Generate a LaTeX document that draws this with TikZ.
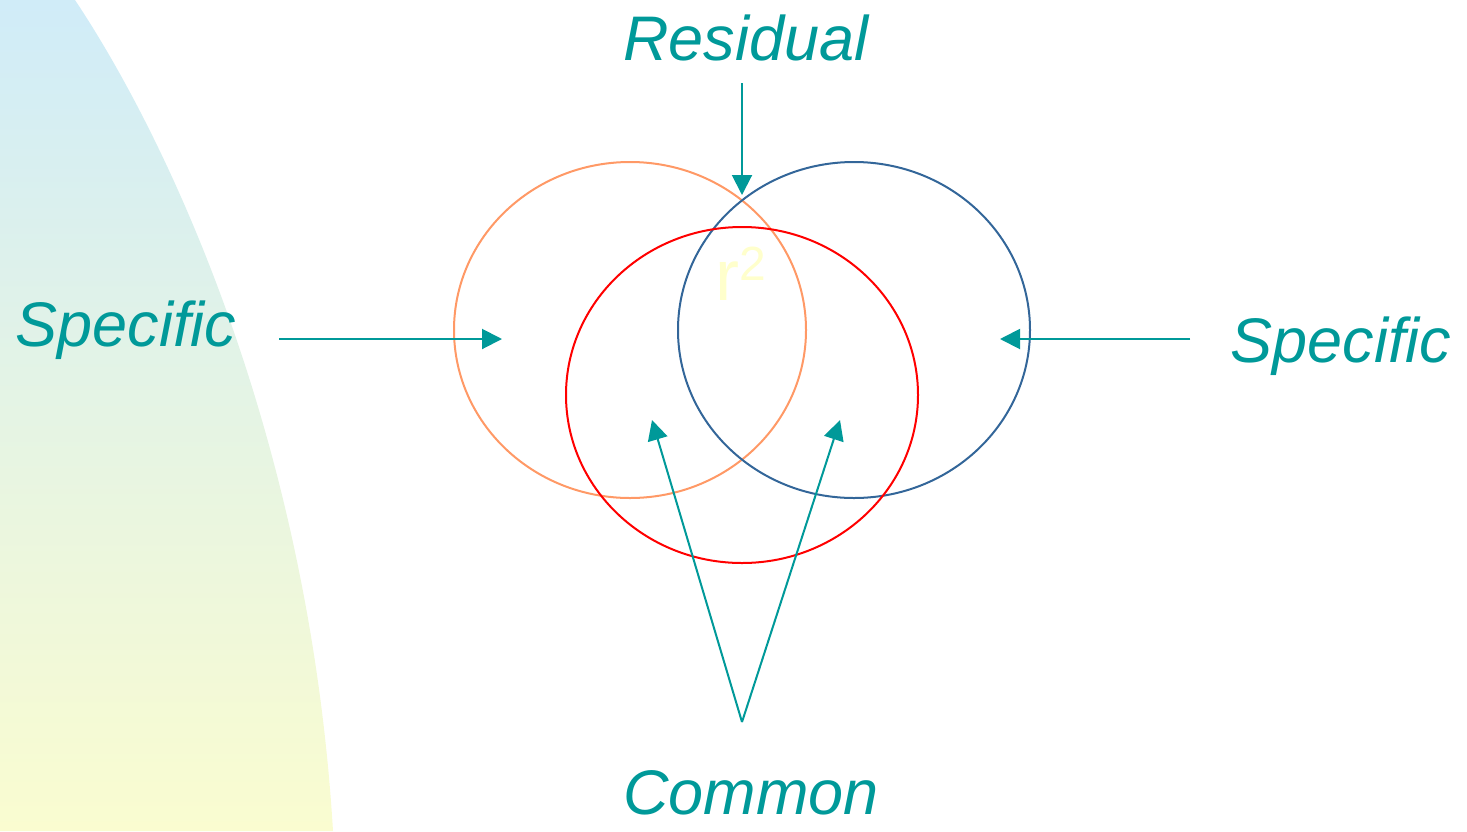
\documentclass[tikz,border=0pt]{standalone}
\usepackage{fontspec}
\setmainfont{Liberation Sans}
\usetikzlibrary{shapes.geometric,arrows.meta,positioning}
\definecolor{labelteal}{HTML}{009999}
\definecolor{vennorange}{HTML}{FF9966}
\definecolor{vennblue}{HTML}{336699}
\definecolor{vennred}{HTML}{FF0000}
\definecolor{skyblue}{RGB}{208,236,248}
\definecolor{paleyellow}{RGB}{250,252,208}
\definecolor{rsqyellow}{HTML}{FFFFCC}

\begin{document}
\begin{tikzpicture}[x=0.5pt, y=-0.5pt, >={Triangle[length=10pt,width=10pt]}, font=\fontsize{31.5}{38}\selectfont\itshape, lbl/.style={text=labelteal, inner sep=0pt, anchor=base}, venn/.style={draw, ellipse, line width=1pt, minimum width=176pt, minimum height=168pt, inner sep=0pt}, pointer/.style={->, draw=labelteal, fill=labelteal, line width=1pt}]
\useasboundingbox (0,0) rectangle (1467,831);
% backdrop
\shade[top color=skyblue, bottom color=paleyellow] (0,0) -- (75,0) .. controls (175,150) and (310,450) .. (333,831) -- (0,831) -- cycle;
% the three sets
\node[venn, draw=vennorange] (left) at (630,330) {};
\node[venn, draw=vennblue] (right) at (854,330) {};
\node[venn, draw=vennred] (middle) at (742,395) {};
\node[text=rsqyellow, font=\fontsize{36}{43}\selectfont, inner sep=0pt, anchor=base west] (rsq) at (715,300) {r\raisebox{10pt}{\fontsize{24}{28}\selectfont 2}};
% labels
\node[lbl] (residual) at (746,60) {Residual};
\node[lbl] (specl) at (126,346) {Specific};
\node[lbl] (specr) at (1341,362) {Specific};
\node[lbl] (common) at (751,814) {Common};
% arrow ends
\coordinate (resfrom) at (742,83);
\coordinate (resto) at (742,195);
\coordinate (slfrom) at (279,339);
\coordinate (slto) at (502,339);
\coordinate (srfrom) at (1190,339);
\coordinate (srto) at (1000,339);
\coordinate (comfrom) at (742,722);
\coordinate (comtol) at (652,420);
\coordinate (comtor) at (840,420);
\draw[pointer] (resfrom) -- (resto);
\draw[pointer] (slfrom) -- (slto);
\draw[pointer] (srfrom) -- (srto);
\draw[pointer] (comfrom) -- (comtol);
\draw[pointer] (comfrom) -- (comtor);
\end{tikzpicture}
\end{document}
